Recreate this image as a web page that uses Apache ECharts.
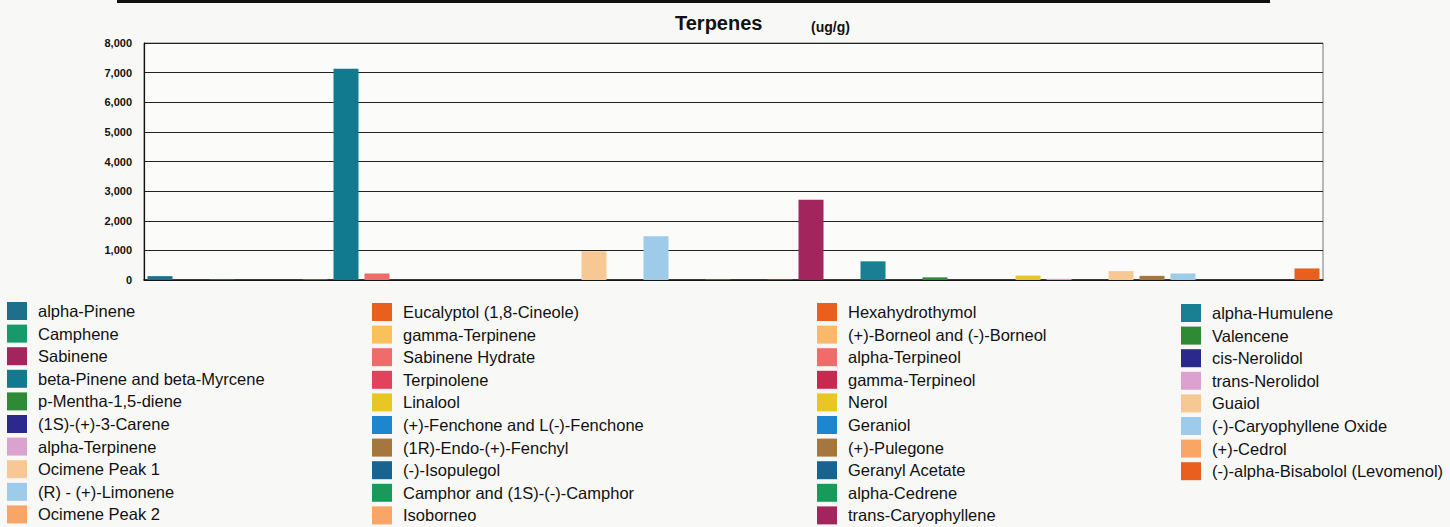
<!DOCTYPE html>
<html>
<head>
<meta charset="utf-8">
<script src="https://cdn.jsdelivr.net/npm/echarts@6/dist/echarts.min.js"></script>
<style>
html,body{margin:0;padding:0;background:#f8f8f7;}
#c{width:1450px;height:527px;}
</style>
</head>
<body>
<div id="c"></div>
<script>
// Terpene names, in the order they are listed in the legend (column by column)
const legendCol1 = ["alpha-Pinene","Camphene","Sabinene","beta-Pinene and beta-Myrcene","p-Mentha-1,5-diene","(1S)-(+)-3-Carene","alpha-Terpinene","Ocimene Peak 1","(R) - (+)-Limonene","Ocimene Peak 2"];
const legendCol2 = ["Eucalyptol (1,8-Cineole)","gamma-Terpinene","Sabinene Hydrate","Terpinolene","Linalool","(+)-Fenchone and L(-)-Fenchone","(1R)-Endo-(+)-Fenchyl","(-)-Isopulegol","Camphor and (1S)-(-)-Camphor","Isoborneo"];
const legendCol3 = ["Hexahydrothymol","(+)-Borneol and (-)-Borneol","alpha-Terpineol","gamma-Terpineol","Nerol","Geraniol","(+)-Pulegone","Geranyl Acetate","alpha-Cedrene","trans-Caryophyllene"];
const legendCol4 = ["alpha-Humulene","Valencene","cis-Nerolidol","trans-Nerolidol","Guaiol","(-)-Caryophyllene Oxide","(+)-Cedrol","(-)-alpha-Bisabolol (Levomenol)"];

// Values (ug/g), same order as the legend columns
const valuesCol1 = [130, 15, 0, 7130, 0, 0, 0, 970, 1480, 10];
const valuesCol2 = [15, 0, 0, 0, 150, 0, 140, 0, 0, 0];
const valuesCol3 = [0, 10, 220, 0, 0, 0, 0, 0, 0, 2710];
const valuesCol4 = [630, 90, 0, 40, 300, 220, 0, 390];

// Colours, same order
const colorsCol1 = ["#1f6e8c","#17996b","#a3255e","#127a8e","#2f8a35","#2b2a8c","#dca2cf","#f8c894","#9fcbea","#f9a566"];
const colorsCol2 = ["#e9601e","#f8c15a","#ee6d6a","#e2425c","#e8c725","#1d86cf","#a5773e","#1a6391","#199a5a","#f9a566"];
const colorsCol3 = ["#e9601e","#f9b86a","#ee6d6a","#c72a50","#e8c725","#1d86cf","#a5773e","#1a6391","#199a5a","#a3255e"];
const colorsCol4 = ["#197f93","#2f8a35","#2b2a8c","#dca2cf","#f8c894","#9fcbea","#f9a566","#e9601e"];

// y-axis ticks
const yTicks = [0, 1000, 2000, 3000, 4000, 5000, 6000, 7000, 8000];

const names = [].concat(legendCol1, legendCol2, legendCol3, legendCol4);
const values = [].concat(valuesCol1, valuesCol2, valuesCol3, valuesCol4);
const colors = [].concat(colorsCol1, colorsCol2, colorsCol3, colorsCol4);

// Bars are drawn interleaving the first and second half of the list
const half = names.length / 2;
const plotOrder = [];
for (let k = 0; k < half; k++) { plotOrder.push(k, k + half); }

const series = plotOrder.map(i => ({
  type: 'bar',
  name: names[i],
  data: [values[i]],
  barWidth: 25,
  barGap: '24%',
  itemStyle: { color: colors[i] },
  emphasis: { disabled: true }
}));

const legendBase = {
  orient: 'vertical',
  top: 302,
  height: 300,
  padding: 0,
  itemWidth: 20,
  itemHeight: 18,
  itemGap: 4.6,
  icon: 'rect',
  selectedMode: false,
  textStyle: { fontSize: 16.5, lineHeight: 18, fontFamily: 'Liberation Sans, Arial, sans-serif', color: '#111', padding: [0, 0, 0, 6] }
};

const chart = echarts.init(document.getElementById('c'), null, { renderer: 'svg' });
chart.setOption({
  backgroundColor: '#f8f8f7',
  animation: false,
  title: [
    { text: 'Terpenes', left: 675, top: 13, padding: 0, textStyle: { fontSize: 20, fontWeight: 'bold', color: '#111', fontFamily: 'Liberation Sans, Arial, sans-serif' } },
    { text: '(ug/g)', left: 811, top: 20, padding: 0, textStyle: { fontSize: 14, fontWeight: 'bold', color: '#111', fontFamily: 'Liberation Sans, Arial, sans-serif' } }
  ],
  graphic: [
    { type: 'rect', shape: { x: 117, y: 0, width: 1153, height: 3 }, style: { fill: '#111' } }
  ],
  grid: { left: 144, right: 127, top: 43, bottom: 247, show: true, backgroundColor: '#fbfbfa', borderColor: '#777', borderWidth: 1 },
  xAxis: {
    type: 'category',
    data: [''],
    axisLine: { lineStyle: { color: '#111', width: 1.5 } },
    axisTick: { show: false },
    axisLabel: { show: false }
  },
  yAxis: {
    type: 'value',
    min: yTicks[0],
    max: yTicks[yTicks.length - 1],
    interval: yTicks[1] - yTicks[0],
    axisLine: { show: true, lineStyle: { color: '#111', width: 1.2 } },
    axisTick: { show: false },
    splitLine: { lineStyle: { color: '#222', width: 1.2 } },
    axisLabel: {
      margin: 12,
      fontSize: 11,
      fontWeight: 'bold',
      color: '#111',
      fontFamily: 'Liberation Sans, Arial, sans-serif',
      formatter: v => v.toLocaleString('en-US')
    }
  },
  legend: [
    Object.assign({}, legendBase, { left: 7, data: legendCol1 }),
    Object.assign({}, legendBase, { left: 372, top: 303, data: legendCol2 }),
    Object.assign({}, legendBase, { left: 817, top: 303, data: legendCol3 }),
    Object.assign({}, legendBase, { left: 1181, top: 304, data: legendCol4 })
  ],
  series: series
});
</script>
</body>
</html>
